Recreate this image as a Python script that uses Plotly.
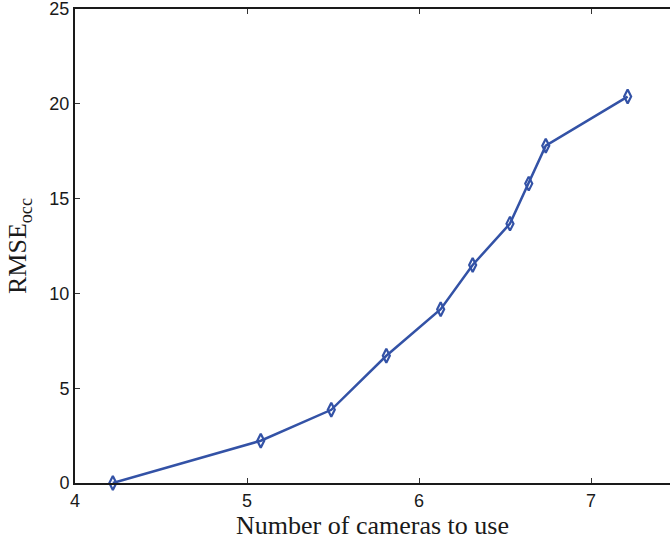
import plotly.graph_objects as go

# Number of cameras used vs. occlusion RMSE
num_cameras = [4.22, 5.08, 5.49, 5.81, 6.126, 6.312, 6.529, 6.638, 6.737, 7.213]
rmse_occ = [0.0, 2.23, 3.86, 6.71, 9.17, 11.5, 13.68, 15.79, 17.79, 20.38]

x_ticks = [4, 5, 6, 7]
y_ticks = [0, 5, 10, 15, 20, 25]

line_color = "#3352a6"
serif = "Liberation Serif, Times New Roman, serif"

fig = go.Figure()
fig.add_trace(go.Scatter(
    x=num_cameras,
    y=rmse_occ,
    mode="lines+markers",
    line=dict(color=line_color, width=2.5),
    marker=dict(symbol="diamond-tall-open", size=10, color=line_color,
                line=dict(width=2.2, color=line_color)),
    cliponaxis=False,
    showlegend=False,
))

fig.update_layout(
    width=670,
    height=540,
    margin=dict(l=75, r=0, t=9, b=57),
    plot_bgcolor="white",
    paper_bgcolor="white",
    font=dict(family="Liberation Sans, Arial, sans-serif", size=18, color="#1a1a1a"),
)

fig.update_xaxes(
    range=[4, 4 + 595 / 172],
    tickvals=x_ticks,
    ticktext=[str(v) for v in x_ticks],
    ticks="inside",
    ticklen=5,
    tickwidth=1,
    tickcolor="#333",
    showline=True,
    linecolor="#1a1a1a",
    linewidth=2,
    mirror="ticks",
    showgrid=False,
    zeroline=False,
    ticklabeloverflow="allow",
    title=dict(text="Number of cameras to use",
               font=dict(family=serif, size=26),
               standoff=4),
)

fig.update_yaxes(
    range=[0, 25],
    tickvals=y_ticks,
    ticks="inside",
    ticklen=5,
    tickwidth=1,
    tickcolor="#333",
    showline=True,
    linecolor="#1a1a1a",
    linewidth=2,
    mirror=False,
    showgrid=False,
    zeroline=False,
    ticklabeloverflow="allow",
    title=dict(text="RMSE<sub>occ</sub>",
               font=dict(family=serif, size=26),
               standoff=15),
)

fig.write_html("out.html")
